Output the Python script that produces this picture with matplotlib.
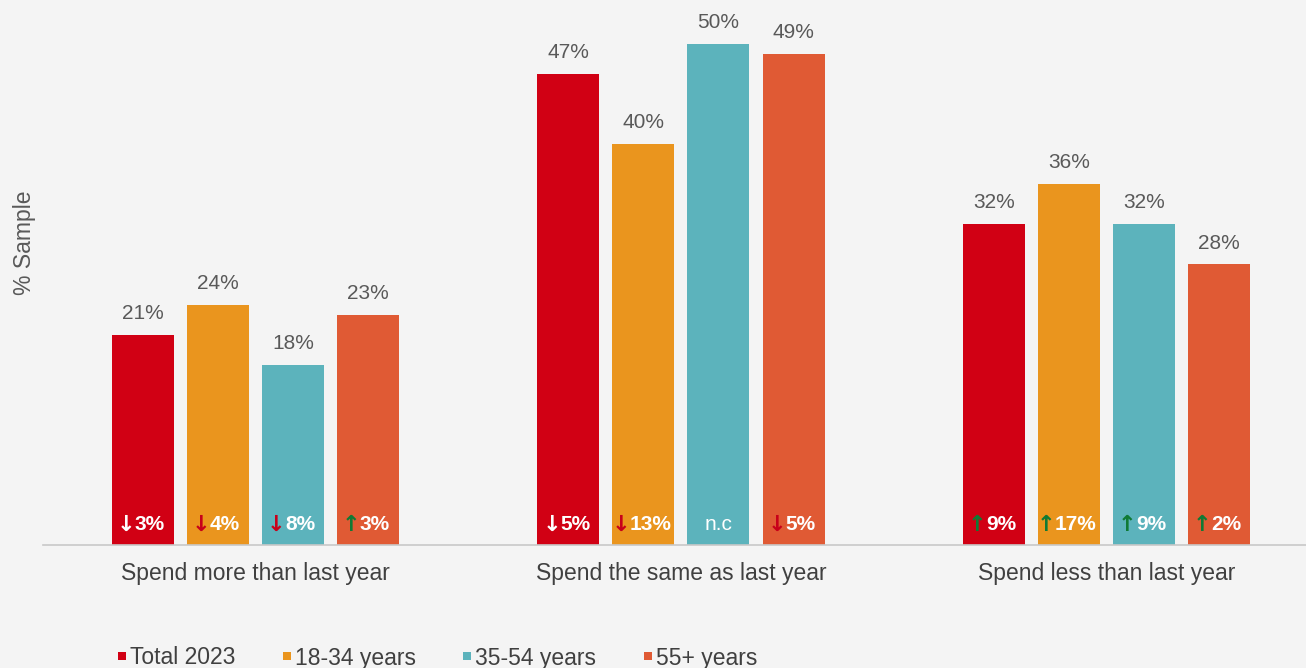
import numpy as np
import matplotlib.pyplot as plt
from matplotlib.lines import Line2D

plt.rcParams['font.family'] = ['Liberation Sans', 'DejaVu Sans']

categories = ['Spend more than last year', 'Spend the same as last year', 'Spend less than last year']
series = ['Total 2023', '18-34 years', '35-54 years', '55+ years']
colors = ['#D10014', '#EA951E', '#5CB3BC', '#E05A34']

total_2023 = [21, 47, 32]
age_18_34 = [24, 40, 36]
age_35_54 = [18, 50, 32]
age_55_plus = [23, 49, 28]

# change vs previous year, None = not comparable
chg_total = [-3, -5, 9]
chg_18_34 = [-4, -13, 17]
chg_35_54 = [-8, None, 9]
chg_55_plus = [3, -5, 2]

values = [total_2023, age_18_34, age_35_54, age_55_plus]
changes = [chg_total, chg_18_34, chg_35_54, chg_55_plus]

bg = '#F4F4F4'
txt = '#595959'
up_col = '#0F7A35'
down_col = '#C8001A'

fig = plt.figure(figsize=(13.06, 6.68), dpi=100, facecolor=bg)
ax = fig.add_axes([43 / 1306, 123 / 668, 1263 / 1306, 545 / 668])
ax.set_facecolor(bg)

x = np.arange(len(categories))
pitch = 0.1763
width = 0.1457

for i, (name, vals, chg, col) in enumerate(zip(series, values, changes, colors)):
    pos = x + (i - 1.5) * pitch
    bars = ax.bar(pos, vals, width, color=col, label=name, zorder=2)
    for b, v, c in zip(bars, vals, chg):
        cx = b.get_x() + b.get_width() / 2
        ax.annotate(f'{v}%', (cx, v), xytext=(0, 11.5), textcoords='offset points',
                    ha='center', va='baseline', fontsize=15, color=txt)
        if c is None:
            ax.annotate('n.c', (cx, 0), xytext=(0, 11), textcoords='offset points',
                        ha='center', va='baseline', fontsize=15, color='white')
            continue
        arrow = '↑' if c > 0 else '↓'
        if c > 0:
            acol = up_col
        else:
            acol = 'white' if i == 0 else down_col
        num = ax.annotate(f'{abs(c)}%', (cx, 0), xytext=(5, 11), textcoords='offset points',
                          ha='center', va='baseline', fontsize=15, fontweight='bold', color='white')
        # arrow glyph placed just left of the number
        ax.annotate(arrow, xy=(0, 0), xycoords=num, xytext=(0.5, -1), textcoords='offset points',
                    ha='right', va='bottom', fontsize=16, fontweight='bold', color=acol,
                    family=['DejaVu Sans'])

ax.set_xlim(-0.4994, 2.4689)
ax.set_ylim(0, 54.4)
ax.set_yticks([])
ax.set_xticks(x)
ax.set_xticklabels(categories, fontsize=16.5, color='#404040')
ax.tick_params(axis='x', length=0, pad=12)
for s in ['top', 'right', 'left']:
    ax.spines[s].set_visible(False)
ax.spines['bottom'].set_color('#C8C8C8')
ax.spines['bottom'].set_linewidth(1.2)

fig.text(25 / 1306, 1 - 243 / 668, '% Sample', rotation=90, ha='center', va='center',
         fontsize=16.5, color=txt)

handles = [Line2D([], [], marker='s', linestyle='none', markersize=6, color=c,
                  markeredgewidth=0) for c in colors]
fig.legend(handles, series, loc='center left', bbox_to_anchor=(116 / 1306, 1 - 658 / 668),
           ncol=4, frameon=False, fontsize=16.5, handletextpad=0.1, handlelength=0.5,
           columnspacing=2.0, borderpad=0, borderaxespad=0, labelcolor='#404040')

fig.savefig('out.png', dpi=100, facecolor=bg)
